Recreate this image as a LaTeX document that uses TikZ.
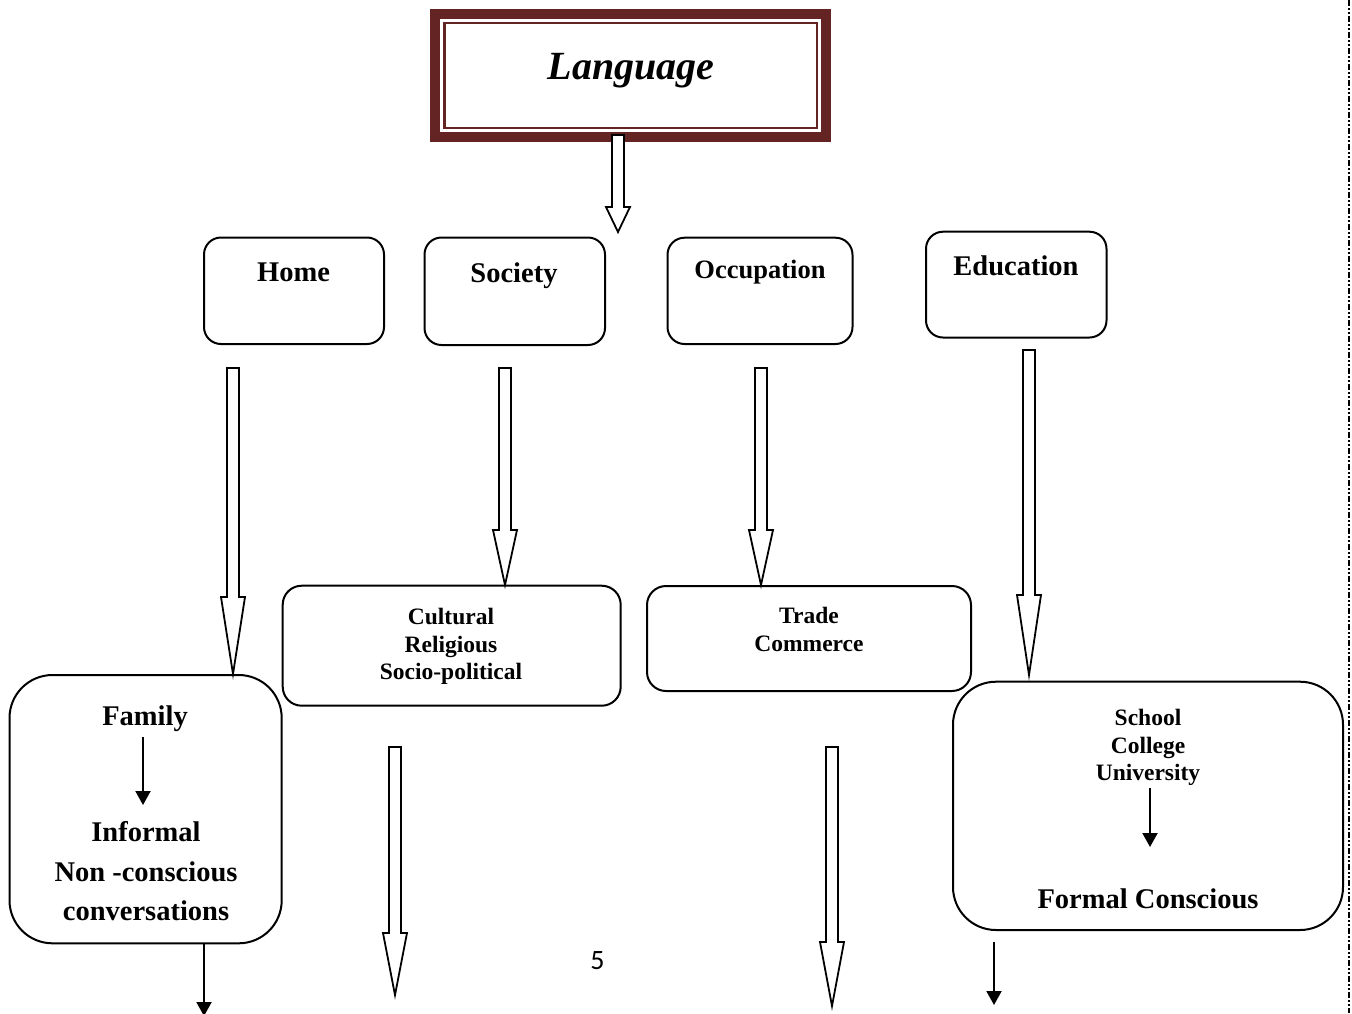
\documentclass[tikz,border=0pt]{standalone}
\usepackage{fontspec}
\setmainfont{Liberation Serif}
\newfontfamily\pagefont{Carlito}
\usetikzlibrary{arrows.meta,calc}
\definecolor{wine}{RGB}{99,36,35}

\tikzset{
  box/.style={draw, line width=2pt, rounded corners=17pt, outer sep=0pt, inner sep=0pt},
  hollow/.style={draw, fill=white, line width=1.8pt, line join=miter},
  arr/.style={line width=2pt, -{Triangle[length=14pt,width=15pt]}},
  big/.style={font=\fontsize{28.5}{34}\selectfont\bfseries, anchor=base, inner sep=0pt},
  small/.style={font=\fontsize{23.5}{28}\selectfont\bfseries, anchor=base, inner sep=0pt},
  dashline/.style={line width=2pt, dash pattern=on 6pt off 2pt on 2pt off 2pt on 2pt off 2pt}
}

% hollow block arrow: top, tip, head length
\newcommand{\hollowarrow}[3]{%
  \draw[hollow] let \p1=(#1), \p2=(#2) in
    (\x1-6pt,\y1) -- (\x1+6pt,\y1) -- (\x1+6pt,\y2+#3) -- (\x1+12pt,\y2+#3)
    -- (\x2,\y2) -- (\x1-12pt,\y2+#3) -- (\x1-6pt,\y2+#3) -- cycle;}

\begin{document}
\begin{tikzpicture}[x=1pt,y=-1pt]
  \clip (0,0) rectangle (1352,1013);
  \fill[white] (0,0) rectangle (1352,1013);

  % title
  \node[draw=wine, line width=2.4pt, outer sep=0pt, minimum width=372.5pt, minimum height=105pt] (title) at (630.75,75.35) {};
  \draw[wine, line width=10pt] ([shift={(-9.2,-9.2)}]title.north west) rectangle ([shift={(9.2,9.2)}]title.south east);
  \node[font=\fontsize{40}{44}\selectfont\bfseries\itshape, anchor=base, inner sep=0pt] (lang) at (631,79) {Language};

  % first row
  \node[box, minimum width=180pt, minimum height=106.5pt] (home) at (294,290.75) {};
  \node[box, minimum width=180.5pt, minimum height=107.5pt] (society) at (514.75,291.25) {};
  \node[box, minimum width=185pt, minimum height=106.3pt] (occupation) at (760,290.85) {};
  \node[box, minimum width=180.5pt, minimum height=105.8pt] (education) at (1016.25,284.6) {};
  \node[big] (hometext) at (293.5,281.7) {Home};
  \node[big] (societytext) at (514,282) {Society};
  \node[big, font=\fontsize{26.5}{32}\selectfont\bfseries] (occtext) at (760,278) {Occupation};
  \node[big] (edutext) at (1016,275) {Education};

  % second row
  \node[box, rounded corners=43pt, minimum width=272.2pt, minimum height=268.3pt] (family) at (145.6,809.15) {};
  \node[box, rounded corners=19pt, minimum width=338pt, minimum height=120pt] (cultural) at (451.7,645.7) {};
  \node[box, rounded corners=19pt, minimum width=324pt, minimum height=105pt] (trade) at (809,638.5) {};
  \node[box, rounded corners=43pt, minimum width=390pt, minimum height=248.3pt] (school) at (1148,805.85) {};

  \node[big] (familytext) at (145,725) {Family};
  \node[big] (informal) at (146,841.7) {Informal};
  \node[big] (nonconscious) at (146,881) {Non -conscious};
  \node[big] (conversations) at (146,920) {conversations};

  \node[small] (cult1) at (451,624) {Cultural};
  \node[small] (cult2) at (451,652) {Religious};
  \node[small] (cult3) at (451,679.5) {Socio-political};

  \node[small] (trade1) at (809,623) {Trade};
  \node[small] (trade2) at (809,651) {Commerce};

  \node[small] (school1) at (1148,725.7) {School};
  \node[small] (school2) at (1148,753) {College};
  \node[small] (school3) at (1148,780.5) {University};
  \node[big] (formal) at (1148,908.3) {Formal Conscious};

  \node[font=\pagefont\fontsize{28}{32}\selectfont, anchor=base, inner sep=0pt] (page) at (597.5,969) {5};

  % hollow arrows
  \coordinate (t1) at (618,135);  \coordinate (t2) at (618,232);
  \coordinate (h1) at (233,368);  \coordinate (h2) at (233,674);
  \coordinate (s1) at (505,368);  \coordinate (s2) at (505,585);
  \coordinate (o1) at (761,368);  \coordinate (o2) at (761,585);
  \coordinate (e1) at (1029,350); \coordinate (e2) at (1029,675);
  \coordinate (c1) at (395,747);  \coordinate (c2) at (395,995);
  \coordinate (r1) at (832,747);  \coordinate (r2) at (832,1006);
  \hollowarrow{t1}{t2}{25pt}
  \hollowarrow{h1}{h2}{77pt}
  \hollowarrow{s1}{s2}{55pt}
  \hollowarrow{o1}{o2}{55pt}
  \hollowarrow{e1}{e2}{80pt}
  \hollowarrow{c1}{c2}{62pt}
  \hollowarrow{r1}{r2}{64pt}

  % solid arrows
  \coordinate (f1) at (143,737);  \coordinate (f2) at (143,805);
  \coordinate (u1) at (1150,788); \coordinate (u2) at (1150,847);
  \coordinate (fo1) at (204,943); \coordinate (fo2) at (204,1016);
  \coordinate (so1) at (994,942); \coordinate (so2) at (994,1005);
  \draw[arr] (f1) -- (f2);
  \draw[arr] (u1) -- (u2);
  \draw[arr] (fo1) -- (fo2);
  \draw[arr] (so1) -- (so2);

  % page edge
  \draw[dashline] (1349,0) -- (1349,1013);
\end{tikzpicture}
\end{document}
